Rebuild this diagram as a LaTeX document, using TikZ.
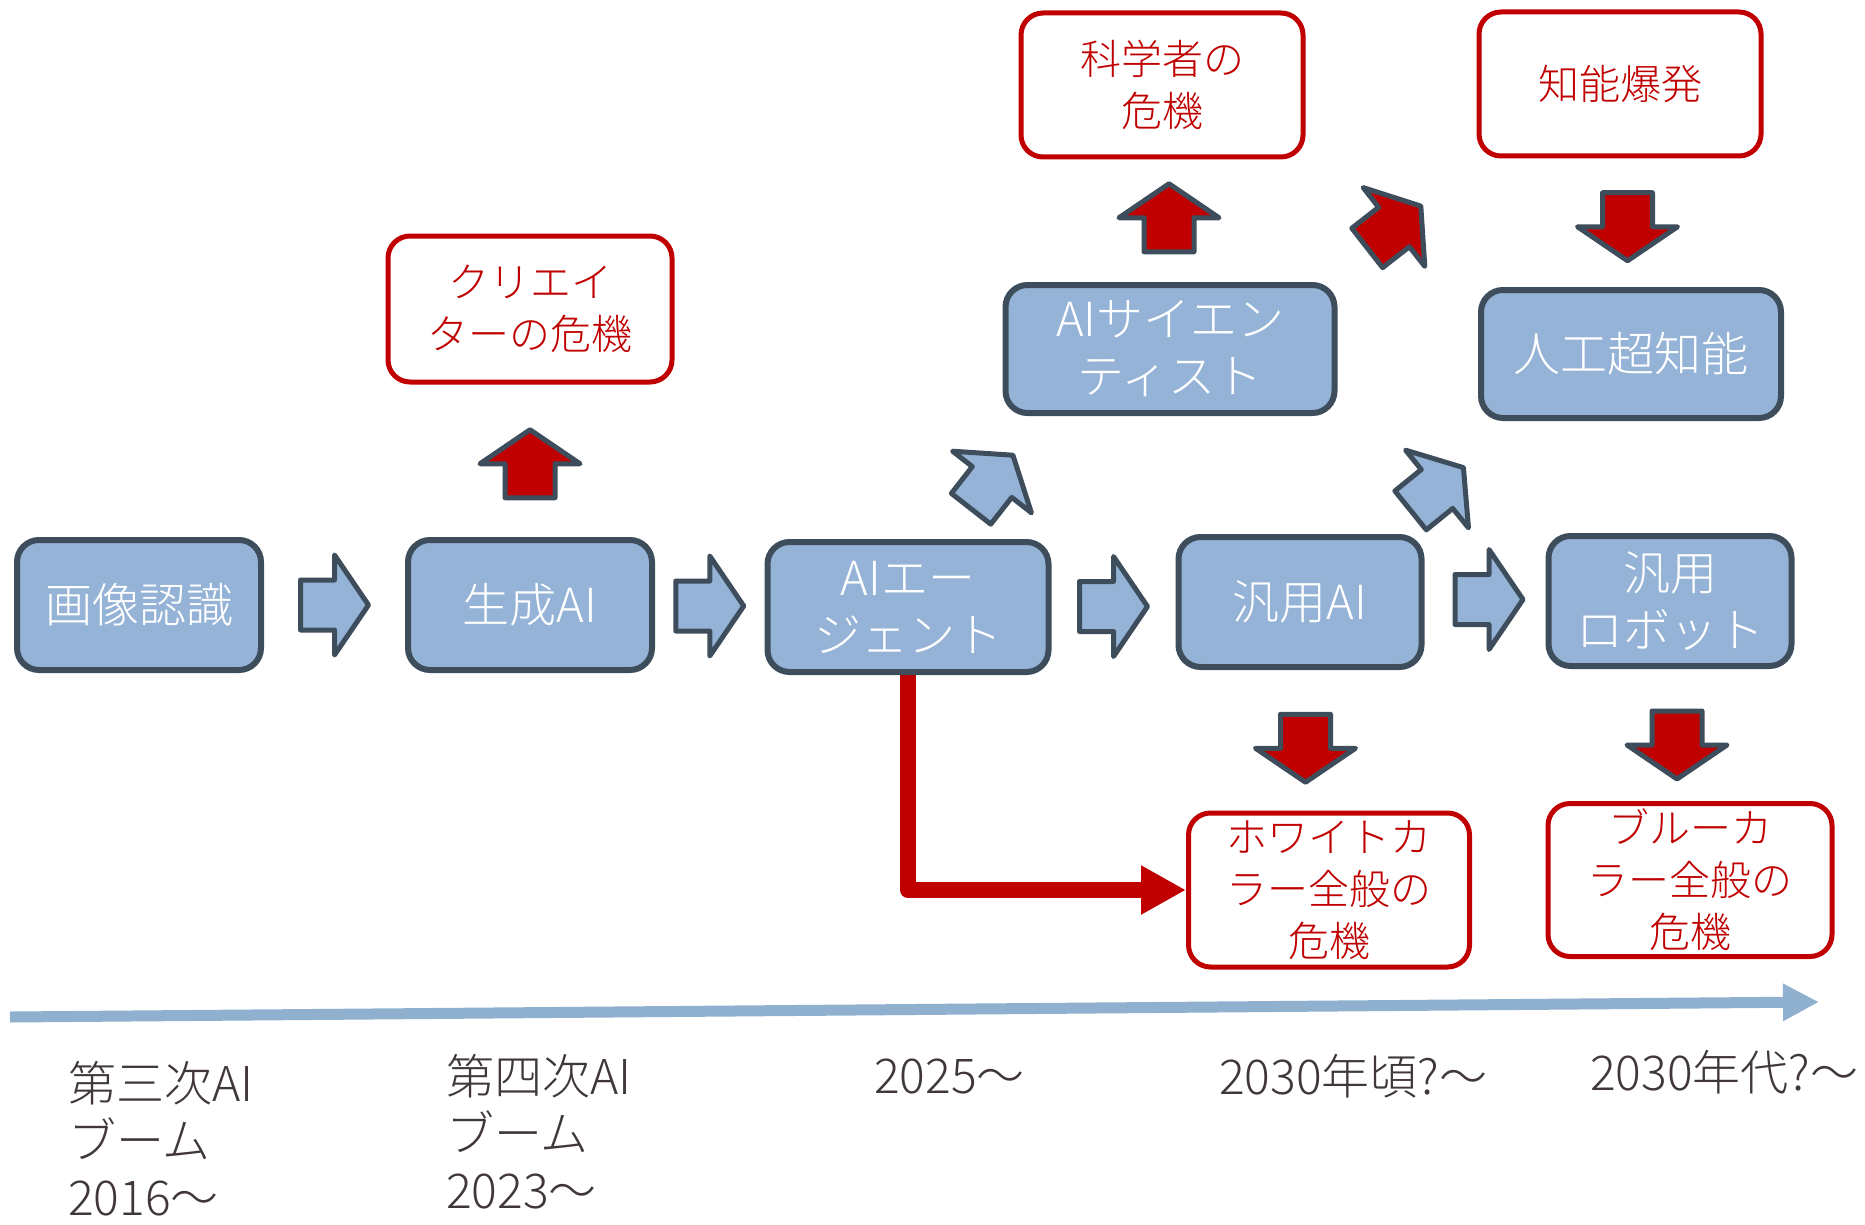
\documentclass[tikz,border=0pt]{standalone}
\usepackage{fontspec}
\usepackage{xcolor}
\usepackage{tikz}
\usetikzlibrary{arrows.meta,calc}

\IfFontExistsTF{Noto Sans CJK JP Light}
    {\newfontfamily\jpfont{Noto Sans CJK JP Light}}
    {\newfontfamily\jpfont{Noto Sans CJK JP}}

\definecolor{boxblue}{RGB}{149,179,215}
\definecolor{edgegray}{RGB}{62,77,92}
\definecolor{alertred}{RGB}{192,0,0}
\definecolor{axisblue}{RGB}{143,176,206}
\definecolor{yeargray}{RGB}{64,56,56}

\tikzset{
    stagebox/.style={draw=edgegray, line width=6pt, fill=boxblue, rounded corners=22pt,
        text=white, align=center, inner sep=0pt, minimum width=244pt, minimum height=130pt,
        font=\jpfont\fontsize{47}{57}\selectfont},
    crisisbox/.style={draw=alertred, line width=5pt, fill=white, rounded corners=22pt,
        text=alertred, align=center, inner sep=0pt, minimum width=282pt, minimum height=146pt,
        font=\jpfont\fontsize{41}{52}\selectfont},
    yearlabel/.style={anchor=west, align=left, inner sep=0pt, text=yeargray,
        font=\jpfont\fontsize{48}{57}\selectfont},
    pics/blockarrow/.style={code={
        \draw[fill=#1, draw=edgegray, line width=5pt, line join=round]
            (-34,-25) -- (0,-25) -- (0,-50) -- (34,0) -- (0,50) -- (0,25) -- (-34,25) -- cycle;
    }}
}

\begin{document}
\begin{tikzpicture}[x=1pt, y=-1pt]
    \useasboundingbox (0,0) rectangle (1865,1225);

    % stages
    \node[stagebox] (img) at (139,605) {画像認識};
    \node[stagebox] (gen) at (530,605) {生成AI};
    \node[stagebox, minimum width=281pt] (agent) at (908,607) {AIエー\\ジェント};
    \node[stagebox, minimum width=243pt] (general) at (1300,602) {汎用AI};
    \node[stagebox, minimum width=243pt] (robot) at (1670,601) {汎用\\ロボット};
    \node[stagebox, minimum width=329pt, minimum height=128pt] (sci) at (1170,349) {AIサイエン\\ティスト};
    \node[stagebox, minimum width=300pt, minimum height=128pt] (asi) at (1631,354) {人工超知能};

    % crises
    \node[crisisbox, minimum width=284pt] (creator) at (530,309) {クリエイ\\ターの危機};
    \node[crisisbox, minimum height=144pt] (scicrisis) at (1162,85) {科学者の\\危機};
    \node[crisisbox, minimum height=144pt] (explosion) at (1620,84) {知能爆発};
    \node[crisisbox, minimum width=281pt, minimum height=154pt] (white) at (1329,890) {ホワイトカ\\ラー全般の\\危機};
    \node[crisisbox, minimum width=284pt, minimum height=153pt] (bluecol) at (1690,880) {ブルーカ\\ラー全般の\\危機};

    % block arrows
    \pic at ($(img.east)!0.5!(gen.west)$) {blockarrow=boxblue};
    \pic at ($(gen.east)!0.5!(agent.west)$) {blockarrow=boxblue};
    \pic at ($(agent.east)!0.5!(general.west)+(0,2)$) {blockarrow=boxblue};
    \pic at ($(general.east)!0.5!(robot.west)+(4,-2)$) {blockarrow=boxblue};
    \pic[rotate=52] at (992,482) {blockarrow=boxblue};
    \pic[rotate=39] at (1437,489) {blockarrow=boxblue};
    \pic[rotate=90] at ($(gen.north)!0.5!(creator.south)+(0,3)$) {blockarrow=alertred};
    \pic[rotate=90] at ($(sci.north)!0.5!(scicrisis.south)+(3,-3)$) {blockarrow=alertred};
    \pic[rotate=38] at (1394,227) {blockarrow=alertred};
    \pic[rotate=-90] at ($(explosion.south)!0.5!(asi.north)+(2,4)$) {blockarrow=alertred};
    \pic[rotate=-90] at ($(general.south)!0.5!(white.north)+(-9,8)$) {blockarrow=alertred};
    \pic[rotate=-90] at ($(robot.south)!0.5!(bluecol.north)+(-3,10)$) {blockarrow=alertred};

    % agent to white collar
    \draw[alertred, line width=16pt, line join=round, -{Triangle[length=45pt, width=46pt]}]
        (agent.south) |- (white.west);

    % timeline
    \coordinate (t0) at (10,1017);
    \coordinate (t1) at (1819,1002);
    \draw[axisblue, line width=11pt, -{Triangle[length=36pt, width=35pt]}] (t0) -- (t1);

    \node[yearlabel] (y2016) at (68,1139) {第三次AI\\ブーム\\2016〜};
    \node[yearlabel] (y2023) at (446,1132) {第四次AI\\ブーム\\2023〜};
    \node[yearlabel] (y2025) at (874,1076) {2025〜};
    \node[yearlabel] (y2030) at (1219,1076) {2030年頃?〜};
    \node[yearlabel] (y2030s) at (1590,1072) {2030年代?〜};
\end{tikzpicture}
\end{document}
